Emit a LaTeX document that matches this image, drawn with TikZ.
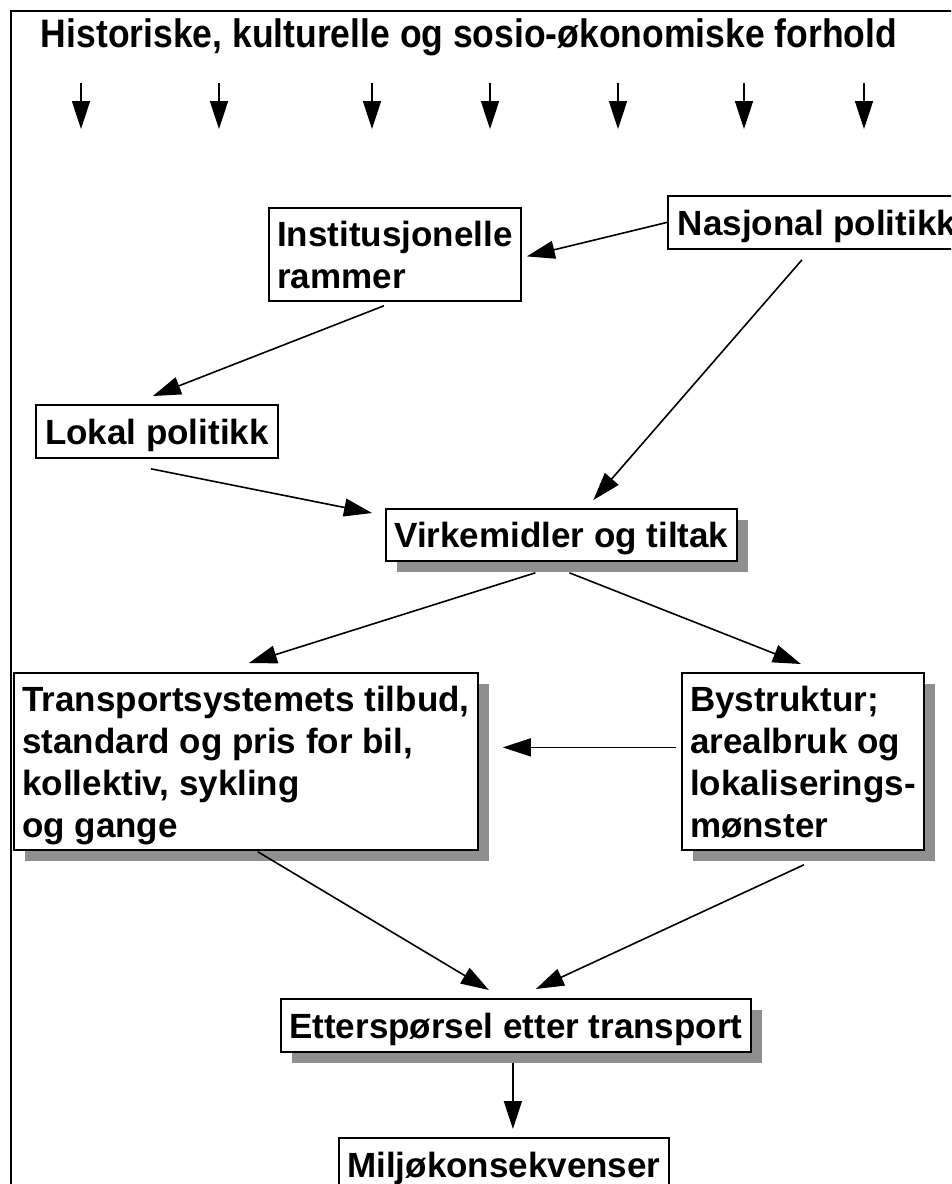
\documentclass[tikz,border=0pt]{standalone}
\usepackage{fontspec}
\setmainfont{Liberation Sans}
\usetikzlibrary{arrows.meta, calc, shadows}

\newcommand{\boksfont}{\bfseries\fontsize{35}{42}\selectfont}
\tikzset{
  boks/.style={draw, line width=1.8pt, fill=white, font=\boksfont, anchor=north west, inner sep=0pt, align=left, text depth=0pt},
  skygge/.style={drop shadow={shadow xshift=11pt, shadow yshift=-11pt, fill=black!44, opacity=1}},
  pil/.style={line width=1.6pt, -{Triangle[length=28pt, width=18pt]}}
}

\begin{document}
\begin{tikzpicture}[x=1pt, y=-1pt]
  \clip (0,0) rectangle (951,1184);
  \fill[white] (0,0) rectangle (951,1184);
  % outer frame, runs off the right and bottom edges
  \draw[line width=2.5pt] (11,11) rectangle (1000,1250);

  \node[font=\bfseries\fontsize{35.5}{40}\selectfont, anchor=base, inner sep=0pt] (tittel) at (469,47) {\scalebox{1}[1.12]{Historiske, kulturelle og sosio-økonomiske forhold}};

  % arrows down from the heading
  \foreach \x [count=\i] in {81,219,372,490,618,744,864} {
    \coordinate (topp\i) at (\x,83);
    \coordinate (bunn\i) at (\x,129);
    \draw[pil] (topp\i) -- (bunn\i);
  }

  % boxes
  \node[boks, minimum width=252pt, minimum height=93pt] (inst) at (268,207) {Institusjonelle\\rammer};
  \node[boks, inner xsep=10pt, minimum height=53pt] (nasj) at (667,195) {Nasjonal politikk};
  \node[boks, minimum width=242pt, minimum height=53pt] (lokal) at (35,404) {Lokal politikk};
  \node[boks, skygge, minimum width=351pt, minimum height=52pt] (virk) at (385,508) {Virkemidler og tiltak};
  \node[boks, skygge, minimum width=464pt, minimum height=177pt] (trans) at (13,672) {Transportsystemets tilbud,\\standard og pris for bil,\\kollektiv, sykling\\og gange};
  \node[boks, skygge, minimum width=242pt, minimum height=177pt] (by) at (681,672) {Bystruktur;\\arealbruk og\\lokaliserings-\\mønster};
  \node[boks, skygge, minimum width=470pt, minimum height=53pt] (ett) at (280,998) {Etterspørsel etter transport};
  \node[boks, minimum width=330pt, minimum height=53pt] (milj) at (338,1137) {Miljøkonsekvenser};

  % connectors
  \draw[pil] (nasj.west) -- ($(inst.east)+(5,2)$);
  \draw[pil] ($(nasj.south west)+(135,10)$) -- ($(virk.north)+(32,-8)$);
  \draw[pil] ($(inst.south)+(-11,4)$) -- ($(lokal.north)+(-4,-8)$);
  \draw[pil] ($(lokal.south)+(-6,10)$) -- ($(virk.north west)+(-13,5)$);
  \draw[pil] ($(virk.south)+(-26,11)$) -- ($(trans.north)+(3,-9)$);
  \draw[pil] ($(virk.south)+(8,11)$) -- ($(by.north)+(-2,-8)$);
  \draw[pil] ($(by.west)+(-5,-14)$) -- ($(trans.east)+(24,-14)$);
  \draw[pil] ($(trans.south)+(12,1)$) -- ($(ett.north)+(-27,-8)$);
  \draw[pil] ($(by.south)+(1,14)$) -- ($(ett.north)+(20,-9)$);
  \draw[pil] ($(ett.south)+(-3,10)$) -- ($(milj.north)+(9,-8)$);
\end{tikzpicture}
\end{document}
